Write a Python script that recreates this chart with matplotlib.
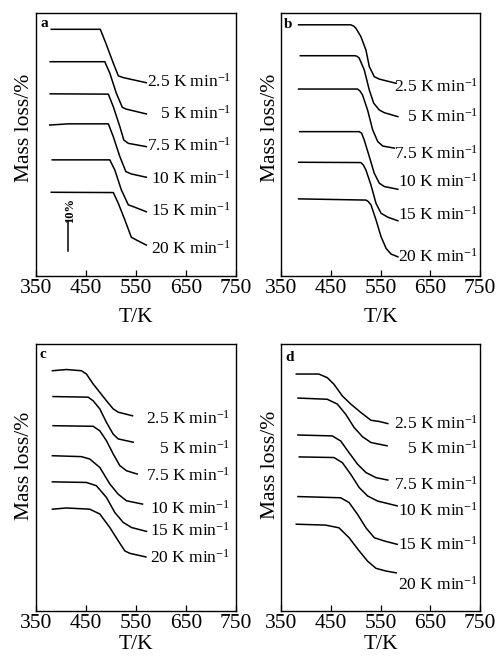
import matplotlib
matplotlib.use("Agg")
import matplotlib.pyplot as plt

plt.rcParams['font.family'] = ['Liberation Serif', 'DejaVu Serif']
plt.rcParams['mathtext.fontset'] = 'custom'
plt.rcParams['mathtext.rm'] = 'Liberation Serif'
plt.rcParams['mathtext.it'] = 'Liberation Serif:italic'

# ---------------- data (T in K, y = relative mass, % with vertical offsets) -------------
rates = ['2.5', '5', '7.5', '10', '15', '20']
xticks = [350, 450, 550, 650, 750]

a_T = [
    [381, 479, 490, 505, 515, 525, 571],
    [379, 488, 498, 511, 523, 531, 571],
    [379, 495, 505, 518, 526, 535, 571],
    [378, 415, 495, 505, 518, 530, 541, 571],
    [383, 498, 508, 521, 535, 545, 571],
    [381, 505, 515, 528, 541, 551, 571],
]
a_y = [
    [82.2, 82.2, 77.6, 70.9, 66.7, 66.1, 64.4],
    [71.4, 71.4, 67.6, 60.9, 56.2, 55.6, 54.0],
    [60.7, 60.6, 56.4, 49.8, 45.3, 44.2, 43.1],
    [50.3, 50.7, 50.7, 46.4, 39.8, 34.8, 34.0, 32.9],
    [38.7, 38.7, 35.3, 28.7, 23.7, 23.1, 21.4],
    [27.9, 27.8, 24.2, 18.7, 12.9, 12.0, 10.3],
]

b_T = [
    [385.7, 490.3, 496.0, 500.4, 510.5, 520.7, 527.4, 537.5, 547.6, 581.4],
    [389.1, 498.4, 503.0, 507.2, 517.3, 527.4, 536.2, 547.6, 557.8, 584.7],
    [385.7, 503.8, 509.0, 513.9, 524.0, 534.2, 544.3, 554.4, 578.0],
    [387.8, 507.2, 512.0, 517.3, 527.4, 537.5, 547.6, 557.8, 584.7],
    [385.7, 510.5, 515.5, 520.7, 530.8, 540.9, 551.0, 564.5, 584.7],
    [385.7, 520.7, 525.5, 530.8, 540.9, 551.0, 561.1, 571.2, 584.7],
]
b_y = [
    [83.7, 83.7, 83.3, 82.6, 79.8, 75.3, 69.8, 66.4, 65.6, 64.2],
    [73.4, 73.4, 73.2, 72.6, 68.7, 62.0, 57.6, 55.3, 54.4, 53.1],
    [62.3, 62.3, 61.6, 60.3, 55.3, 48.7, 44.8, 43.3, 42.6],
    [48.1, 48.1, 47.6, 45.3, 39.8, 34.2, 30.9, 29.8, 28.9],
    [37.9, 37.8, 37.0, 35.3, 30.3, 24.2, 20.9, 19.6, 18.4],
    [25.7, 25.3, 24.8, 23.7, 18.7, 13.1, 9.2, 7.3, 6.4],
]

c_T = [
    [383.3, 411.3, 441.3, 451.3, 464.7, 478.0, 491.3, 504.7, 514.7, 543.3],
    [384.7, 454.7, 464.7, 478.0, 491.3, 504.7, 514.7, 544.7],
    [384.7, 464.7, 478.0, 491.3, 504.7, 518.0, 531.3, 552.7],
    [383.3, 441.3, 458.0, 478.0, 498.0, 514.7, 531.3, 563.3],
    [383.3, 451.3, 471.3, 491.3, 508.0, 524.7, 541.3, 571.3],
    [383.3, 411.3, 458.0, 478.0, 498.0, 514.7, 528.0, 538.0, 570.0],
]
c_y = [
    [79.4, 79.8, 79.4, 78.3, 75.0, 72.2, 69.4, 66.7, 65.6, 64.4],
    [70.8, 70.6, 69.4, 66.7, 62.2, 58.3, 56.7, 55.6],
    [61.1, 60.9, 59.4, 56.1, 51.7, 47.8, 46.1, 45.0],
    [51.1, 50.8, 50.0, 47.2, 41.7, 38.3, 36.1, 35.0],
    [42.4, 42.2, 41.1, 37.2, 32.2, 28.9, 27.2, 25.9],
    [33.3, 33.7, 33.3, 31.7, 27.2, 22.8, 19.4, 18.6, 17.4],
]

d_T = [
    [381.0, 426.2, 443.1, 456.6, 473.4, 490.3, 510.5, 530.8, 547.6, 564.5],
    [384.4, 443.1, 463.3, 480.2, 497.0, 513.9, 530.8, 563.1],
    [384.4, 453.2, 470.1, 486.9, 503.8, 520.7, 540.9, 564.5],
    [387.1, 456.6, 473.4, 490.3, 507.2, 524.0, 544.3, 583.4],
    [384.4, 470.1, 486.9, 503.8, 520.7, 537.5, 557.8, 583.4],
    [381.0, 439.7, 466.7, 486.9, 507.2, 524.0, 540.9, 561.1, 581.4],
]
d_y = [
    [77.6, 77.6, 76.4, 74.2, 70.3, 67.6, 64.8, 62.2, 61.8, 61.1],
    [69.6, 69.2, 67.6, 64.2, 59.8, 56.7, 54.8, 53.7],
    [57.3, 57.0, 55.3, 51.4, 47.6, 44.8, 43.1, 42.3],
    [50.0, 49.8, 48.1, 44.2, 39.8, 37.0, 35.3, 33.7],
    [36.8, 36.4, 34.8, 30.9, 26.4, 23.1, 22.0, 20.9],
    [27.6, 27.3, 26.4, 23.1, 18.7, 15.3, 12.9, 12.0, 11.4],
]

# label heights of the rate annotations (same y units)
a_lab = [64.8, 54.2, 43.4, 32.3, 21.8, 9.2]
b_lab = [63.1, 53.1, 40.9, 31.4, 20.3, 6.4]
c_lab = [63.3, 53.3, 44.4, 33.3, 26.1, 17.2]
d_lab = [60.9, 52.6, 40.9, 32.0, 20.9, 7.6]

# ---------------- figure ----------------
W, H = 504, 662
fig = plt.figure(figsize=(W / 100, H / 100), dpi=100)

def box(l, t, r, b):
    return [l / W, 1 - b / H, (r - l) / W, (b - t) / H]

panels = [
    dict(name='a', rect=box(35.7, 12.5, 236.0, 276.0), T=a_T, y=a_y, lab=a_lab,
         ylim=(0, 87.8), labx=741, ylab=(-0.058, 0.562), xlab=-0.121, let=(0.044, 0.958)),
    dict(name='b', rect=box(280.8, 12.5, 480.3, 276.0), T=b_T, y=b_y, lab=b_lab,
         ylim=(0, 87.8), labx=746, ylab=(-0.054, 0.562), xlab=-0.121, let=(0.038, 0.953)),
    dict(name='c', rect=box(35.7, 344.0, 236.0, 611.0), T=c_T, y=c_y, lab=c_lab,
         ylim=(-0.6, 88.3), labx=739, ylab=(-0.058, 0.543), xlab=-0.09, let=(0.038, 0.959)),
    dict(name='d', rect=box(280.8, 344.0, 480.3, 611.0), T=d_T, y=d_y, lab=d_lab,
         ylim=(-1.3, 87.6), labx=746, ylab=(-0.054, 0.549), xlab=-0.09, let=(0.046, 0.948)),
]

for p in panels:
    ax = fig.add_axes(p['rect'])
    for Ts, ys in zip(p['T'], p['y']):
        ax.plot(Ts, ys, color='black', lw=1.1, solid_joinstyle='round')
    for r, ly in zip(rates, p['lab']):
        ax.text(p['labx'], ly, r + r' K min$^{-1}$', ha='right', va='center',
                fontsize=12.5, color='black')
    ax.set_xlim(350, 750)
    ax.set_ylim(*p['ylim'])
    ax.set_xticks(xticks)
    ax.set_xticklabels([str(t) for t in xticks])
    ax.set_yticks([])
    ax.tick_params(axis='x', direction='in', length=4, width=0.9, labelsize=15.5, pad=2)
    for s in ax.spines.values():
        s.set_linewidth(1.0)
    ax.set_xlabel('T/K', fontsize=15.5)
    ax.xaxis.set_label_coords(0.5, p['xlab'])
    ax.text(p['ylab'][0], p['ylab'][1], 'Mass loss/%', rotation=90, ha='center',
            va='center', fontsize=15.5, transform=ax.transAxes)
    ax.text(p['let'][0], p['let'][1], p['name'], ha='center', va='center',
            fontsize=11, fontweight='bold', transform=ax.transAxes)
    if p['name'] == 'a':
        ax.plot([415, 415], [8.4, 18.3], color='black', lw=1.1)
        ax.text(419, 21.8, '10%', rotation=90, ha='center', va='center',
                fontsize=9, fontweight='bold')

fig.savefig('out.png', dpi=100)
